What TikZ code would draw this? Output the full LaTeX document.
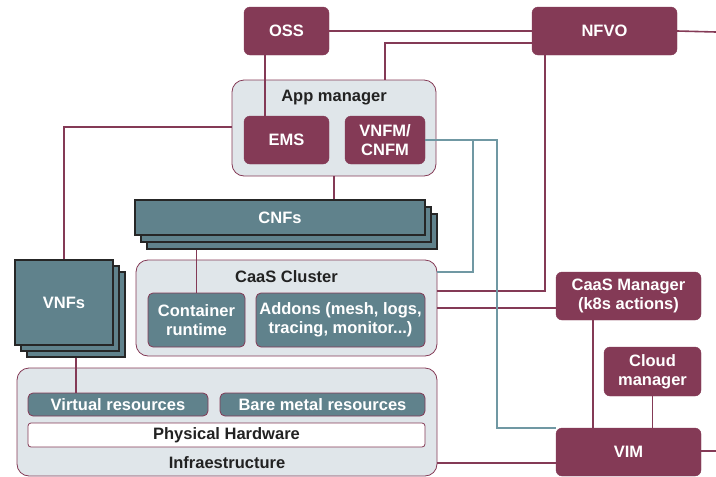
\documentclass[tikz,border=0pt]{standalone}
\usepackage{fontspec}
\setmainfont{Liberation Sans}
\usetikzlibrary{positioning}
\definecolor{maroon}{RGB}{132,58,86}
\definecolor{tealbox}{RGB}{96,130,140}
\definecolor{tealline}{RGB}{112,152,163}
\definecolor{panel}{RGB}{224,230,234}
\definecolor{ink}{RGB}{34,34,34}
\tikzset{
  base/.style={inner sep=0pt, align=center, font=\fontsize{16.5}{19}\selectfont\bfseries},
  mbox/.style={base, fill=maroon, draw=maroon, text=white, rounded corners=6pt},
  tbox/.style={base, fill=tealbox, draw=maroon, line width=0.8pt, text=white, rounded corners=5pt},
  panelbox/.style={base, fill=panel, draw=maroon, line width=0.8pt, rounded corners=12pt},
  stackbox/.style={base, fill=tealbox, draw=black!85, line width=1.4pt, text=white},
  hwbox/.style={base, fill=white, draw=maroon, line width=0.8pt, text=ink, rounded corners=3pt},
  lbl/.style={base, text=ink},
  mline/.style={draw=maroon, line width=1.6pt},
  tline/.style={draw=tealline, line width=1.6pt},
}
\begin{document}
\begin{tikzpicture}[x=1pt, y=-1pt]
\useasboundingbox (0,0) rectangle (716,477);

% management layer
\node[mbox, minimum width=85pt, minimum height=48pt] (oss) at (286.5,31) {OSS};
\node[mbox, minimum width=145pt, minimum height=48pt] (nfvo) at (604.5,31) {NFVO};

\node[panelbox, minimum width=204pt, minimum height=96pt] (appmgr) at (334,128) {};
\node[lbl] (appmgrlbl) at (334,98) {App manager};
\node[mbox, minimum width=85pt, minimum height=48pt] (ems) at (286.5,140) {EMS};
\node[mbox, minimum width=80pt, minimum height=48pt] (vnfm) at (385,140) {VNFM/\\CNFM};

% stacked network functions
\node[stackbox, minimum width=290pt, minimum height=35pt] (cnfs3) at (292,231.5) {};
\node[stackbox, minimum width=290pt, minimum height=35pt] (cnfs2) at (286,224.5) {};
\node[stackbox, minimum width=290pt, minimum height=35pt] (cnfs) at (280,217.5) {CNFs};

\node[stackbox, minimum width=98pt, minimum height=85pt] (vnfs3) at (76,314.5) {};
\node[stackbox, minimum width=98pt, minimum height=85pt] (vnfs2) at (70,308.5) {};
\node[stackbox, minimum width=98pt, minimum height=85pt] (vnfs) at (64,302.5) {VNFs};

% container platform
\node[panelbox, minimum width=301pt, minimum height=96pt] (caas) at (286.5,308) {};
\node[lbl] (caaslbl) at (286.5,277) {CaaS Cluster};
\node[tbox, minimum width=97pt, minimum height=54pt] (runtime) at (196.5,320) {Container\\runtime};
\node[tbox, minimum width=169pt, minimum height=54pt] (addons) at (340.5,320) {Addons (mesh, logs,\\tracing, monitor...)};

% infrastructure
\node[panelbox, minimum width=420pt, minimum height=108pt] (infra) at (227,422) {};
\node[lbl] (infralbl) at (227,463) {Infraestructure};
\node[tbox, minimum width=180pt, minimum height=23pt] (virt) at (118,404.5) {Virtual resources};
\node[tbox, minimum width=205pt, minimum height=23pt] (bare) at (322.5,404.5) {Bare metal resources};
\node[hwbox, minimum width=397pt, minimum height=24pt] (phys) at (226.5,435) {Physical Hardware};

% right-hand managers
\node[mbox, minimum width=145pt, minimum height=48pt] (caasmgr) at (628.5,296) {CaaS Manager\\(k8s actions)};
\node[mbox, minimum width=97pt, minimum height=49pt] (cloud) at (652.5,371.5) {Cloud\\manager};
\node[mbox, minimum width=145pt, minimum height=48pt] (vim) at (628.5,452) {VIM};

\coordinate (nfvoout) at (716,32);
\coordinate (vimout) at (716,451);

% maroon connectors
\draw[mline] (oss.east) -- (nfvo.west);
\draw[mline] (nfvo.east) -- (nfvoout);
\draw[mline] (nfvo.west |- 0,43) -| (appmgr.north -| 385,0);
\draw[mline] (oss.south -| 265,0) -- (ems.north -| 265,0);
\draw[mline] (appmgr.west |- 0,127) -| (vnfs.north);
\draw[mline] (appmgr.south) -- (cnfs.north -| appmgr.south);
\draw[mline] (cnfs3.south -| runtime.north) -- (runtime.north);
\draw[mline] (vnfs3.south) -- (virt.north -| vnfs3.south);
\draw[mline] (nfvo.south -| 545,0) |- (caas.east |- 0,291);
\draw[mline] (caas.east |- 0,308) -- (caasmgr.west |- 0,308);
\draw[mline] (caasmgr.south -| 593,0) -- (vim.north -| 593,0);
\draw[mline] (cloud.south) -- (cloud.south |- vim.north);
\draw[mline] (vim.east |- vimout) -- (vimout);
\draw[mline] (infra.east |- 0,463) -- (vim.west |- 0,463);

% teal connectors from VNFM/CNFM
\draw[tline] (vnfm.east) -| (473,272) -- (caas.east |- 0,272);
\draw[tline] (vnfm.east) -| (497,428) -- (vim.west |- 0,428);
\end{tikzpicture}
\end{document}
